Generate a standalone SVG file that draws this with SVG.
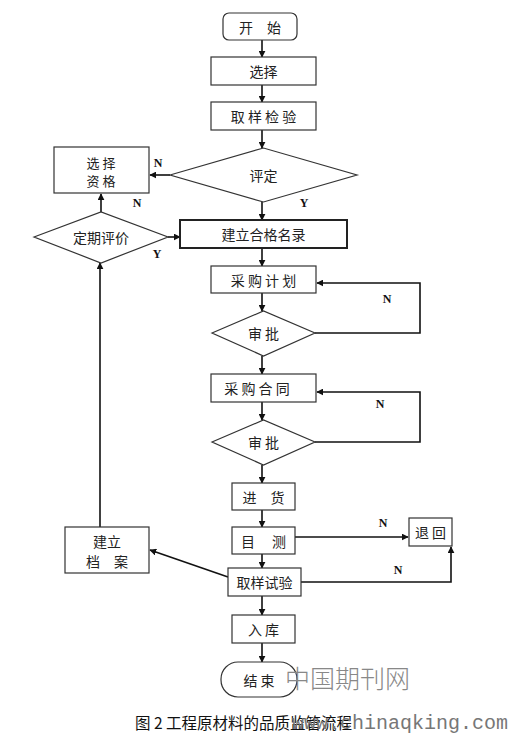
<svg xmlns="http://www.w3.org/2000/svg" width="512" height="735" viewBox="0 0 512 735">
<style>
.b{fill:#fff;stroke:#333;stroke-width:1.2}
.bt{fill:#fff;stroke:#222;stroke-width:2}
.t{font-family:"Noto Sans CJK SC",sans-serif;font-size:14px;fill:#222;text-anchor:middle;dominant-baseline:central}
.l{font-family:"Liberation Serif",serif;font-size:12px;font-weight:bold;fill:#111;text-anchor:middle;dominant-baseline:central}
.c{fill:none;stroke:#111;stroke-width:1.6}
</style>
<defs>
<marker id="a" viewBox="0 0 10 10" refX="9" refY="5" markerWidth="7" markerHeight="7" orient="auto" markerUnits="userSpaceOnUse"><path d="M0,0 L10,5 L0,10 z" fill="#111"/></marker>
</defs>
<rect width="512" height="735" fill="#fff"/>
<g id="connectors">
<line class="c" x1="262" y1="40" x2="262" y2="57" marker-end="url(#a)"/>
<line class="c" x1="262" y1="85" x2="262" y2="102" marker-end="url(#a)"/>
<line class="c" x1="262" y1="130" x2="262" y2="148" marker-end="url(#a)"/>
<line class="c" x1="170" y1="175" x2="150" y2="175" marker-end="url(#a)"/>
<line class="c" x1="262" y1="202" x2="262" y2="220" marker-end="url(#a)"/>
<line class="c" x1="101" y1="212" x2="101" y2="194" marker-end="url(#a)"/>
<line class="c" x1="168" y1="237" x2="180" y2="237" marker-end="url(#a)"/>
<line class="c" x1="262" y1="248" x2="262" y2="266" marker-end="url(#a)"/>
<line class="c" x1="262" y1="293" x2="262" y2="311" marker-end="url(#a)"/>
<polyline class="c" points="315,333 420,333 420,283 317,283" marker-end="url(#a)"/>
<line class="c" x1="262" y1="356" x2="262" y2="374" marker-end="url(#a)"/>
<line class="c" x1="262" y1="402" x2="262" y2="420" marker-end="url(#a)"/>
<polyline class="c" points="315,442 420,442 420,392 317,392" marker-end="url(#a)"/>
<line class="c" x1="262" y1="465" x2="262" y2="483" marker-end="url(#a)"/>
<line class="c" x1="262" y1="510" x2="262" y2="527" marker-end="url(#a)"/>
<line class="c" x1="295" y1="537" x2="408" y2="537" marker-end="url(#a)"/>
<line class="c" x1="262" y1="554" x2="262" y2="568" marker-end="url(#a)"/>
<polyline class="c" points="301,582 451,582 451,547" marker-end="url(#a)"/>
<line class="c" x1="228" y1="577" x2="150" y2="550" marker-end="url(#a)"/>
<line class="c" x1="100" y1="527" x2="100" y2="263" marker-end="url(#a)"/>
<line class="c" x1="262" y1="596" x2="262" y2="615" marker-end="url(#a)"/>
<line class="c" x1="262" y1="643" x2="262" y2="662" marker-end="url(#a)"/>
</g>
<g id="labels">
<text class="l" x="158" y="163">N</text>
<text class="l" x="137" y="203">N</text>
<text class="l" x="304" y="203">Y</text>
<text class="l" x="157" y="254">Y</text>
<text class="l" x="387" y="299">N</text>
<text class="l" x="380" y="404">N</text>
<text class="l" x="383" y="523">N</text>
<text class="l" x="398" y="570">N</text>
</g>
<g id="start"><rect class="b" x="223" y="13" width="74" height="27" rx="6"/><text class="t" x="260" y="26.5">开　始</text></g>
<g id="select"><rect class="b" x="211" y="57" width="105" height="28"/><text class="t" x="263.5" y="71">选择</text></g>
<g id="sample"><rect class="b" x="211" y="102" width="105" height="28"/><text class="t" x="263.5" y="116">取 样 检 验</text></g>
<g id="evaluate"><polygon class="b" points="170,175 263.5,148 357,175 263.5,202"/><text class="t" x="263.5" y="175">评定</text></g>
<g id="qualify"><rect class="b" x="54" y="147" width="95" height="46"/><text class="t" x="101" y="162" style="font-size:13px">选 择</text><text class="t" x="101" y="180" style="font-size:13px">资 格</text></g>
<g id="roster"><rect class="bt" x="180" y="220" width="167" height="28"/><text class="t" x="263.5" y="234">建立合格名录</text></g>
<g id="periodic"><polygon class="b" points="34,237 101,212 168,237 101,263"/><text class="t" x="101" y="237">定期评价</text></g>
<g id="plan"><rect class="b" x="211" y="266" width="105" height="27"/><text class="t" x="263.5" y="279.5">采 购 计 划</text></g>
<g id="approve1"><polygon class="b" points="212,333 263.5,311 315,333 263.5,356"/><text class="t" x="263.5" y="333">审 批</text></g>
<g id="contract"><rect class="b" x="211" y="374" width="105" height="28"/><text class="t" x="257" y="388">采 购 合 同</text></g>
<g id="approve2"><polygon class="b" points="212,442 263.5,420 315,442 263.5,465"/><text class="t" x="263.5" y="442">审 批</text></g>
<g id="goods"><rect class="b" x="232" y="483" width="63" height="27"/><text class="t" x="263.5" y="496.5">进　货</text></g>
<g id="visual"><rect class="b" x="232" y="527" width="63" height="27"/><text class="t" x="263.5" y="540.5">目　 测</text></g>
<g id="return"><rect class="b" x="409" y="518" width="43" height="28"/><text class="t" x="430.5" y="532">退 回</text></g>
<g id="test"><rect class="b" x="228" y="568" width="73" height="28"/><text class="t" x="264.5" y="582">取样试验</text></g>
<g id="archive"><rect class="b" x="65" y="527" width="84" height="46"/><text class="t" x="107" y="541">建立</text><text class="t" x="107" y="561">档　案</text></g>
<g id="store"><rect class="b" x="232" y="615" width="63" height="28"/><text class="t" x="263.5" y="629">入 库</text></g>
<g id="end"><rect class="b" x="221" y="662" width="76" height="35" rx="17"/><text class="t" x="259" y="679.5">结 束</text></g>
<text x="285" y="688" style="font-family:'Noto Sans CJK SC',sans-serif;font-size:25px;fill:#888;font-weight:300">中国期刊网</text>
<text x="135" y="729" style="font-family:'Noto Sans CJK SC',sans-serif;font-size:15.5px;fill:#111">图 2 工程原材料的品质监管流程</text>
<text x="292" y="729" style="font-family:'Liberation Mono',monospace;font-size:20px;fill:#777">www.chinaqking.com</text>
</svg>
